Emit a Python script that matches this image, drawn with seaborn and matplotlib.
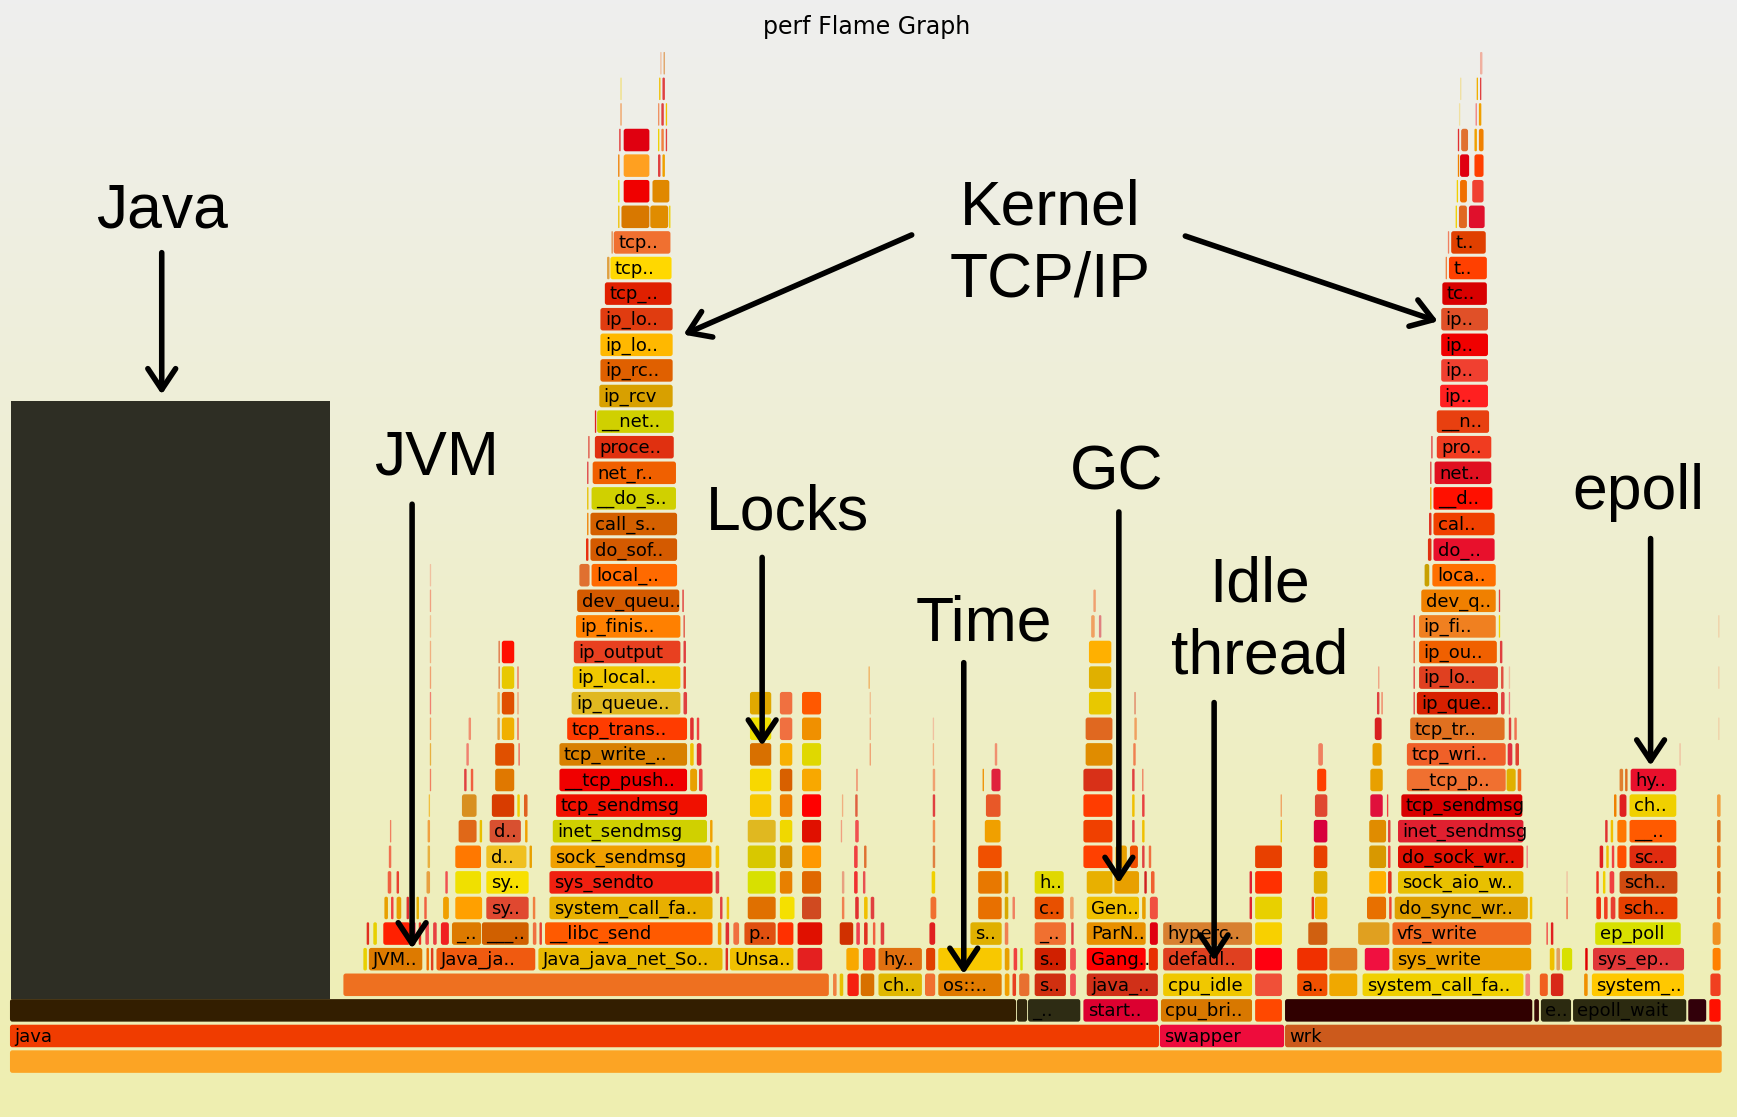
import numpy as np
import pandas as pd
import matplotlib
matplotlib.use("Agg")
import matplotlib.pyplot as plt
import seaborn as sns
from matplotlib.patches import FancyBboxPatch, Rectangle, ArrowStyle
from matplotlib.colors import LinearSegmentedColormap

# frames: (stack depth, first sample, last sample, function name, fill)
base_frames = [
    (0, 9, 1555, "", "#fca424"),
    (1, 9, 1047, "java", "#f03c00"),
    (1, 1047, 1160, "swapper", "#ee0c3c"),
    (1, 1160, 1555, "wrk", "#cc5a1c"),
    (2, 9, 918, "", "#331e00"),
    (2, 918, 928, "", "#30260c"),
    (2, 928, 976, "_..", "#2e2c14"),
    (2, 978, 1046, "start..", "#dc0030"),
    (2, 1048, 1131, "cpu_bri..", "#d87800"),
    (2, 1133, 1158, "", "#ff4800"),
    (2, 1160, 1384, "", "#300000"),
    (2, 1385, 1390, "", "#3a0806"),
    (2, 1391, 1419, "e..", "#2c2a10"),
    (2, 1420, 1523, "epoll_wait", "#2c2a10"),
    (2, 1524, 1541, "", "#32000a"),
    (2, 1543, 1554, "", "#ff1000"),
]

jvm_frames = [
    (3, 310, 749, "", "#ee7020"),
    (4, 328, 332, "", "#e8d000"), (4, 333, 382, "JVM..", "#dd7a00"),
    (4, 385, 388, "", "#f07000"), (4, 389, 392, "", "#e04020"),
    (4, 394, 484, "Java_ja..", "#f05a10"),
    (5, 331, 334, "", "#e03020"), (5, 337, 341, "", "#e8d000"), (5, 346, 371, "", "#ff2000"),
    (5, 373, 376, "", "#f04060"), (5, 378, 381, "", "#e83020"), (5, 384, 388, "", "#f05050"),
    (5, 391, 395, "", "#e84040"), (5, 398, 406, "", "#f02020"),
    (5, 408, 435, "_..", "#dd7a00"), (5, 435, 478, "___..", "#d06000"), (5, 481, 485, "", "#f07040"),
    (6, 347, 351, "", "#e8a000"), (6, 353, 356, "", "#f04040"), (6, 358, 363, "", "#e8a000"),
    (6, 367, 370, "", "#e03030"), (6, 376, 379, "", "#e8b000"), (6, 383, 386, "", "#f06040"),
    (6, 400, 406, "", "#f0a000"), (6, 411, 436, "", "#ffa000"), (6, 439, 478, "sy..", "#e04830"),
    (6, 481, 484, "", "#f08040"),
    (7, 350, 354, "", "#f06040"), (7, 358, 361, "", "#e84030"), (7, 385, 389, "", "#e8a040"),
    (7, 402, 405, "", "#f05050"), (7, 411, 435, "", "#f0e000"), (7, 439, 478, "sy..", "#f8e000"),
    (8, 351, 354, "", "#f07050"), (8, 386, 389, "", "#e8b040"), (8, 411, 435, "", "#ff7800"),
    (8, 439, 476, "d..", "#f0c020"), (8, 478, 481, "", "#e8a000"),
    (9, 352, 354, "", "#f08060"), (9, 386, 389, "", "#f0a040"), (9, 414, 431, "", "#e06818"),
    (9, 433, 436, "", "#e8c000"), (9, 442, 471, "d..", "#d85030"), (9, 474, 477, "", "#f0a000"),
    (10, 387, 389, "", "#f0c040"), (10, 417, 431, "", "#d89020"), (10, 444, 465, "", "#d83c00"),
    (10, 467, 470, "", "#f0d000"), (10, 473, 477, "", "#e06020"),
    (11, 388, 390, "", "#f08060"), (11, 419, 422, "", "#e04040"), (11, 425, 428, "", "#f06040"),
    (11, 447, 465, "", "#e07800"),
    (12, 388, 390, "", "#e8b040"), (12, 421, 424, "", "#f08070"), (12, 447, 465, "", "#e05000"),
    (12, 468, 470, "", "#f06050"),
    (13, 388, 390, "", "#f0a060"), (13, 423, 426, "", "#f09070"), (13, 449, 452, "", "#e8a040"),
    (13, 453, 465, "", "#f0b000"), (13, 467, 469, "", "#f06040"),
    (14, 388, 390, "", "#f08070"), (14, 449, 452, "", "#f0b050"), (14, 453, 465, "", "#e05000"),
    (14, 467, 469, "", "#f0a070"),
    (15, 388, 390, "", "#f0a070"), (15, 450, 452, "", "#e08040"), (15, 453, 465, "", "#e8c800"),
    (15, 467, 469, "", "#f07050"),
    (16, 388, 390, "", "#f0b080"), (16, 450, 452, "", "#e07040"), (16, 453, 465, "", "#ff1000"),
    (17, 388, 390, "", "#f0c090"), (18, 388, 390, "", "#f0a080"), (19, 388, 390, "", "#f0c0a0"),
]

send_frames = [
    (4, 486, 653, "Java_java_net_So..", "#e8b800"), (4, 655, 658, "", "#e03020"),
    (5, 487, 490, "", "#e84030"), (5, 492, 644, "__libc_send", "#ff5a00"),
    (5, 648, 652, "", "#f0a000"), (5, 655, 659, "", "#e03030"),
    (6, 496, 644, "system_call_fa..", "#e8b000"), (6, 650, 653, "", "#e04040"), (6, 656, 659, "", "#f0c000"),
    (7, 496, 644, "sys_sendto", "#f02010"), (7, 646, 650, "", "#e04040"),
    (8, 497, 643, "sock_sendmsg", "#f0a000"), (8, 646, 650, "", "#f0c000"),
    (9, 499, 639, "inet_sendmsg", "#d0d000"), (9, 641, 644, "", "#f0a000"),
    (10, 502, 639, "tcp_sendmsg", "#f01000"),
    (11, 505, 621, "__tcp_push..", "#f00000"), (11, 623, 630, "", "#e8a000"), (11, 631, 635, "", "#e84040"),
    (12, 505, 621, "tcp_write_..", "#d88000"), (12, 623, 627, "", "#f0c000"), (12, 629, 634, "", "#e03030"),
    (13, 512, 621, "tcp_trans..", "#ff3c00"), (13, 623, 627, "", "#e03030"), (13, 629, 632, "", "#f04040"),
    (14, 516, 615, "ip_queue..", "#e0b820"), (14, 617, 621, "", "#e04040"),
    (15, 517, 615, "ip_local..", "#f0c800"), (15, 617, 620, "", "#e04030"),
    (16, 518, 615, "ip_output", "#e84020"), (16, 617, 620, "", "#e04040"),
    (17, 520, 615, "ip_finis..", "#ff8000"), (17, 617, 619, "", "#e05040"),
    (18, 521, 614, "dev_queu..", "#d45a00"), (18, 616, 618, "", "#e03030"),
    (19, 523, 533, "", "#e07030"), (19, 534, 612, "local_..", "#ff6a00"),
    (20, 529, 532, "", "#e83010"), (20, 533, 612, "do_sof..", "#d45a00"),
    (21, 530, 532, "", "#f08000"), (21, 533, 612, "call_s..", "#d46000"),
    (22, 530, 532, "", "#e8c000"), (22, 534, 611, "__do_s..", "#d0d000"),
    (23, 530, 532, "", "#e04040"), (23, 535, 611, "net_r..", "#f06000"),
    (24, 531, 533, "", "#e05040"), (24, 537, 609, "proce..", "#e03010"),
    (25, 537, 539, "", "#e02020"), (25, 539, 609, "__net..", "#d0d000"),
    (26, 541, 608, "ip_rcv", "#d8a000"),
    (27, 542, 608, "ip_rc..", "#e06000"),
    (28, 542, 608, "ip_lo..", "#ffb800"),
    (29, 542, 608, "ip_lo..", "#e03c10"),
    (30, 546, 607, "tcp_..", "#e02000"),
    (31, 548, 551, "", "#e0a040"), (31, 551, 607, "tcp..", "#ffd800"),
    (32, 552, 554, "", "#e09050"), (32, 554, 606, "tcp..", "#f07030"),
    (33, 558, 560, "", "#f0c000"), (33, 561, 587, "", "#d87800"), (33, 587, 604, "", "#e08c00"),
    (33, 604, 606, "", "#f0d000"),
    (34, 558, 560, "", "#f0e000"), (34, 563, 587, "", "#f00000"), (34, 589, 605, "", "#e08800"),
    (35, 558, 560, "", "#f08000"), (35, 563, 587, "", "#ffa020"), (35, 594, 597, "", "#e04040"),
    (35, 598, 601, "", "#f0a000"),
    (36, 559, 561, "", "#e03030"), (36, 563, 587, "", "#e00010"), (36, 594, 596, "", "#f0d000"),
    (36, 597, 600, "", "#f08040"), (36, 601, 603, "", "#e04040"),
    (37, 560, 562, "", "#f0a060"), (37, 594, 596, "", "#f09060"), (37, 597, 600, "", "#e04040"),
    (37, 601, 603, "", "#f0c000"),
    (38, 560, 562, "", "#f0e080"), (38, 595, 597, "", "#f0c000"), (38, 598, 601, "", "#e04040"),
    (39, 596, 598, "", "#f0c0a0"), (39, 599, 601, "", "#e0a060"),
]

locks_frames = [
    (3, 752, 756, "", "#f08040"), (3, 758, 762, "", "#e8c000"), (3, 765, 776, "", "#f52010"),
    (3, 777, 790, "", "#d87000"),
    (4, 659, 717, "Unsa..", "#f0c000"), (4, 720, 743, "", "#e42020"), (4, 764, 776, "", "#f8a800"),
    (4, 779, 791, "", "#f03020"),
    (5, 662, 668, "", "#f07040"), (5, 672, 701, "p..", "#e05010"), (5, 702, 717, "", "#ff3000"),
    (5, 720, 743, "", "#e01000"), (5, 758, 771, "", "#d03000"), (5, 773, 777, "", "#f04050"),
    (5, 780, 784, "", "#e03020"), (5, 788, 791, "", "#f06040"),
    (6, 675, 701, "", "#e07000"), (6, 704, 718, "", "#f5e000"), (6, 724, 742, "", "#d04a20"),
    (6, 760, 763, "", "#f08050"), (6, 772, 776, "", "#e03030"), (6, 780, 784, "", "#f0c000"),
    (6, 786, 790, "", "#e04040"),
    (7, 675, 701, "", "#d8e000"), (7, 704, 716, "", "#e88000"), (7, 724, 742, "", "#e06800"),
    (7, 760, 763, "", "#e8a080"), (7, 771, 775, "", "#f03030"), (7, 779, 782, "", "#e85050"),
    (8, 675, 701, "", "#d8c800"), (8, 704, 716, "", "#d89000"), (8, 724, 742, "", "#ff9800"),
    (8, 771, 775, "", "#f04040"), (8, 780, 783, "", "#e07030"),
    (9, 675, 701, "", "#e0b820"), (9, 704, 716, "", "#f0d800"), (9, 724, 742, "", "#e01000"),
    (9, 759, 761, "", "#f0a080"), (9, 772, 776, "", "#f05050"),
    (10, 677, 697, "", "#f8c800"), (10, 704, 716, "", "#f08000"), (10, 724, 742, "", "#ff0000"),
    (10, 760, 762, "", "#f0b080"), (10, 772, 775, "", "#e06040"),
    (11, 677, 697, "", "#f8d800"), (11, 704, 716, "", "#d86000"), (11, 724, 742, "", "#f8a800"),
    (11, 773, 775, "", "#f08060"),
    (12, 677, 697, "", "#d87000"), (12, 704, 716, "", "#f8b000"), (12, 724, 742, "", "#e0d800"),
    (12, 785, 787, "", "#f0a070"),
    (13, 677, 697, "", "#f0e000"), (13, 704, 716, "", "#f07040"), (13, 724, 742, "", "#f09000"),
    (13, 785, 787, "", "#f0b080"),
    (14, 677, 697, "", "#e0a800"), (14, 704, 716, "", "#f07040"), (14, 724, 742, "", "#ff5800"),
    (14, 785, 787, "", "#f0c090"),
    (15, 784, 786, "", "#f0b060"),
]

time_frames = [
    (3, 793, 833, "ch..", "#e0b800"), (3, 835, 845, "", "#f07030"), (3, 847, 905, "os::..", "#e07a00"),
    (3, 907, 912, "", "#f0a000"), (3, 914, 918, "", "#e84020"), (3, 920, 930, "", "#e87030"),
    (3, 934, 963, "s..", "#d03010"), (3, 966, 972, "", "#f05050"),
    (4, 793, 833, "hy..", "#e07010"), (4, 836, 845, "", "#e04000"), (4, 847, 905, "", "#f8c800"),
    (4, 907, 912, "", "#e8a000"), (4, 915, 919, "", "#f04040"), (4, 921, 924, "", "#d8e000"),
    (4, 934, 963, "s..", "#d02000"), (4, 966, 972, "", "#f05050"),
    (5, 795, 799, "", "#e04040"), (5, 839, 845, "", "#e02020"), (5, 876, 905, "s..", "#e0b000"),
    (5, 907, 911, "", "#f08050"), (5, 934, 963, "_..", "#f07030"), (5, 967, 970, "", "#e04040"),
    (6, 840, 846, "", "#f07030"), (6, 883, 905, "", "#e87000"), (6, 907, 911, "", "#d8a800"),
    (6, 914, 917, "", "#f08060"), (6, 934, 961, "c..", "#e85000"), (6, 966, 970, "", "#f0a060"),
    (7, 841, 845, "", "#f0d000"), (7, 883, 905, "", "#e87800"), (7, 907, 911, "", "#d8a800"),
    (7, 934, 961, "h..", "#e0d800"),
    (8, 842, 845, "", "#e08040"), (8, 883, 905, "", "#f05000"),
    (9, 842, 845, "", "#f09050"), (9, 889, 904, "", "#f0a000"),
    (10, 842, 845, "", "#e04040"), (10, 890, 904, "", "#e85828"),
    (11, 842, 845, "", "#f0a070"), (11, 887, 889, "", "#f09000"), (11, 895, 904, "", "#e0203c"),
    (12, 842, 844, "", "#f0b080"), (12, 898, 901, "", "#f09070"),
    (13, 842, 844, "", "#f0c0a0"),
]

gc_frames = [
    (3, 981, 1046, "java_..", "#d03018"),
    (4, 981, 1035, "Gang..", "#ff0000"), (4, 1037, 1046, "", "#e83000"),
    (5, 981, 1035, "ParN..", "#e89000"), (5, 1038, 1046, "", "#e00010"),
    (6, 981, 1029, "Gen..", "#f0c000"), (6, 1031, 1035, "", "#e8a000"), (6, 1038, 1046, "", "#f05040"),
    (7, 981, 1005, "", "#e8b000"), (7, 1006, 1029, "", "#e8a000"), (7, 1033, 1036, "", "#d02020"),
    (7, 1039, 1043, "", "#f06030"),
    (8, 978, 1005, "", "#ff4000"), (8, 1007, 1018, "", "#e8a000"), (8, 1020, 1028, "", "#f05000"),
    (8, 1031, 1034, "", "#e04040"), (8, 1037, 1040, "", "#f07040"),
    (9, 978, 1005, "", "#f04000"), (9, 1022, 1025, "", "#e04040"), (9, 1031, 1034, "", "#f0c000"),
    (10, 978, 1005, "", "#ff3c00"), (10, 1022, 1025, "", "#f0c000"), (10, 1031, 1034, "", "#e84040"),
    (11, 978, 1005, "", "#d83018"), (11, 1022, 1025, "", "#e04040"), (11, 1031, 1033, "", "#f08060"),
    (12, 980, 1005, "", "#e08c00"), (12, 1023, 1026, "", "#f08050"),
    (13, 980, 1005, "", "#e06820"), (13, 1024, 1027, "", "#f0a060"),
    (14, 983, 1004, "", "#e8c800"), (14, 1024, 1026, "", "#e08060"),
    (15, 983, 1004, "", "#e0b000"),
    (16, 983, 1004, "", "#ffb000"),
    (17, 985, 989, "", "#f0a060"), (17, 992, 995, "", "#e08080"),
    (18, 987, 990, "", "#f0a070"),
]

idle_frames = [
    (3, 1050, 1131, "cpu_idle", "#f0c800"), (3, 1133, 1158, "", "#f05038"),
    (4, 1050, 1131, "defaul..", "#e04020"), (4, 1133, 1158, "", "#ff0010"),
    (5, 1050, 1131, "hyperc..", "#d88030"), (5, 1133, 1158, "", "#f8d000"),
    (6, 1128, 1131, "", "#e02030"), (6, 1133, 1158, "", "#e8d000"),
    (7, 1128, 1131, "", "#e02030"), (7, 1133, 1158, "", "#ff3000"),
    (8, 1133, 1158, "", "#e84000"),
    (9, 1156, 1158, "", "#f0c000"), (10, 1156, 1158, "", "#f0a060"),
]

wrk_frames = [
    (3, 1171, 1199, "a..", "#f05000"), (3, 1200, 1226, "", "#f0a800"),
    (3, 1230, 1376, "system_call_fa..", "#f0d000"), (3, 1377, 1382, "", "#f08080"),
    (3, 1390, 1398, "", "#f06020"), (3, 1400, 1412, "", "#d82818"),
    (4, 1171, 1199, "", "#f03000"), (4, 1200, 1226, "", "#e07820"), (4, 1232, 1255, "", "#f01040"),
    (4, 1257, 1383, "sys_write", "#eba000"), (4, 1399, 1404, "", "#f0c000"),
    (4, 1405, 1409, "", "#e0a060"), (4, 1410, 1420, "", "#d8e000"),
    (5, 1181, 1199, "", "#d06010"), (5, 1226, 1255, "", "#e0a020"),
    (5, 1257, 1383, "vfs_write", "#f06820"), (5, 1396, 1398, "", "#f04040"), (5, 1400, 1403, "", "#e02020"),
    (6, 1184, 1187, "", "#e03020"), (6, 1187, 1199, "", "#f0b000"), (6, 1234, 1252, "", "#e87000"),
    (6, 1254, 1257, "", "#f04030"), (6, 1259, 1380, "do_sync_wr..", "#e0a000"),
    (6, 1381, 1384, "", "#f0c000"), (6, 1414, 1416, "", "#f06040"),
    (7, 1186, 1199, "", "#e0b000"), (7, 1236, 1252, "", "#ffb000"), (7, 1253, 1257, "", "#e03020"),
    (7, 1262, 1376, "sock_aio_w..", "#e8c000"), (7, 1414, 1416, "", "#f0c0a0"),
    (8, 1186, 1199, "", "#e84000"), (8, 1236, 1252, "", "#d89800"), (8, 1253, 1256, "", "#f04040"),
    (8, 1262, 1376, "do_sock_wr..", "#e01000"), (8, 1378, 1380, "", "#f08080"),
    (9, 1186, 1199, "", "#d8003c"), (9, 1236, 1252, "", "#e08c00"), (9, 1253, 1256, "", "#e04040"),
    (9, 1262, 1376, "inet_sendmsg", "#e02030"),
    (10, 1187, 1199, "", "#e04830"), (10, 1237, 1249, "", "#e0103c"), (10, 1252, 1254, "", "#f04040"),
    (10, 1265, 1375, "tcp_sendmsg", "#d80000"),
    (11, 1189, 1198, "", "#ff4000"), (11, 1237, 1249, "", "#e8a000"),
    (11, 1270, 1360, "__tcp_p..", "#f07030"), (11, 1360, 1369, "", "#e0b000"), (11, 1370, 1374, "", "#f07020"),
    (12, 1190, 1195, "", "#f08060"), (12, 1239, 1248, "", "#e8a000"),
    (12, 1270, 1360, "tcp_wri..", "#f06028"), (12, 1361, 1366, "", "#e03040"), (12, 1368, 1372, "", "#e04030"),
    (13, 1241, 1248, "", "#d82020"), (13, 1273, 1359, "tcp_tr..", "#e07020"),
    (13, 1362, 1365, "", "#e04040"), (13, 1367, 1370, "", "#f07050"),
    (14, 1243, 1246, "", "#e04040"), (14, 1247, 1249, "", "#f08060"), (14, 1276, 1278, "", "#e04040"),
    (14, 1279, 1353, "ip_que..", "#d82000"), (14, 1355, 1359, "", "#e04040"), (14, 1362, 1364, "", "#f08080"),
    (15, 1244, 1246, "", "#f0a080"), (15, 1276, 1278, "", "#e04040"),
    (15, 1281, 1353, "ip_lo..", "#e04020"), (15, 1355, 1358, "", "#e05040"), (15, 1362, 1364, "", "#f0c0a0"),
    (16, 1276, 1278, "", "#e06040"), (16, 1281, 1352, "ip_ou..", "#f06000"), (16, 1354, 1357, "", "#e04040"),
    (17, 1276, 1278, "", "#e04040"), (17, 1281, 1351, "ip_fi..", "#f08020"), (17, 1353, 1355, "", "#f0d000"),
    (18, 1283, 1351, "dev_q..", "#f08000"), (18, 1353, 1355, "", "#e04040"),
    (19, 1286, 1291, "", "#c8a000"), (19, 1293, 1351, "loca..", "#ff7000"),
    (20, 1289, 1293, "", "#e03010"), (20, 1294, 1350, "do_..", "#e8102c"),
    (21, 1290, 1293, "", "#e03020"), (21, 1294, 1350, "cal..", "#f04000"),
    (22, 1291, 1293, "", "#f0a000"), (22, 1294, 1348, "__d..", "#ff1000"),
    (23, 1291, 1293, "", "#e04040"), (23, 1295, 1347, "net..", "#e01020"),
    (24, 1292, 1294, "", "#e04040"), (24, 1297, 1347, "pro..", "#f03c20"),
    (25, 1297, 1345, "__n..", "#e84010"),
    (26, 1300, 1344, "ip..", "#ff2020"),
    (27, 1301, 1344, "ip..", "#f04030"),
    (28, 1301, 1344, "ip..", "#f00000"),
    (29, 1301, 1344, "ip..", "#e05028"),
    (30, 1302, 1343, "tc..", "#d80000"),
    (31, 1305, 1307, "", "#f08040"), (31, 1308, 1343, "t..", "#ff4000"),
    (32, 1307, 1309, "", "#f08060"), (32, 1310, 1342, "t..", "#e04000"),
    (33, 1314, 1316, "", "#f0d000"), (33, 1317, 1325, "", "#e06820"), (33, 1326, 1341, "", "#e0102c"),
    (34, 1315, 1317, "", "#f0d000"), (34, 1318, 1325, "", "#f07000"), (34, 1329, 1340, "", "#f04030"),
    (35, 1316, 1318, "", "#f08000"), (35, 1318, 1327, "", "#e00010"), (35, 1331, 1340, "", "#ff4000"),
    (36, 1316, 1318, "", "#e03030"), (36, 1319, 1326, "", "#e07030"), (36, 1331, 1334, "", "#f0a000"),
    (36, 1335, 1340, "", "#f08000"),
    (37, 1317, 1319, "", "#f0e0a0"), (37, 1332, 1334, "", "#f08080"), (37, 1335, 1338, "", "#f0a000"),
    (38, 1318, 1320, "", "#f0e0a0"), (38, 1333, 1335, "", "#f0b000"), (38, 1336, 1338, "", "#e04040"),
    (39, 1336, 1339, "", "#f0b0a0"),
]

epoll_frames = [
    (3, 1430, 1434, "", "#f09000"), (3, 1437, 1521, "system_..", "#ffc800"), (3, 1544, 1554, "", "#f04020"),
    (4, 1431, 1434, "", "#e00000"), (4, 1438, 1521, "sys_ep..", "#e03838"), (4, 1546, 1554, "", "#ff8000"),
    (5, 1440, 1518, "ep_poll", "#d8e000"), (5, 1546, 1554, "", "#f09020"),
    (6, 1441, 1446, "", "#f03010"), (6, 1448, 1452, "", "#f04020"), (6, 1454, 1459, "", "#e84030"),
    (6, 1461, 1515, "sch..", "#e84000"), (6, 1550, 1554, "", "#f07020"),
    (7, 1441, 1444, "", "#f03020"), (7, 1447, 1450, "", "#f0d000"), (7, 1453, 1458, "", "#f04040"),
    (7, 1462, 1515, "sch..", "#d04a10"), (7, 1550, 1554, "", "#e07010"),
    (8, 1444, 1448, "", "#e02020"), (8, 1450, 1453, "", "#f0c000"), (8, 1455, 1458, "", "#f04040"),
    (8, 1460, 1469, "", "#ff5000"), (8, 1471, 1514, "sc..", "#e02c10"), (8, 1550, 1554, "", "#e88020"),
    (9, 1449, 1452, "", "#e03030"), (9, 1454, 1457, "", "#f0c000"), (9, 1460, 1469, "", "#ff7800"),
    (9, 1471, 1514, "__..", "#ff5a00"), (9, 1550, 1554, "", "#e07820"),
    (10, 1457, 1460, "", "#f08000"), (10, 1462, 1469, "", "#e02020"), (10, 1471, 1514, "ch..", "#f0d000"),
    (10, 1550, 1554, "", "#f0a040"),
    (11, 1462, 1466, "", "#e08030"), (11, 1467, 1470, "", "#e07020"), (11, 1472, 1514, "hy..", "#e8102c"),
    (12, 1516, 1518, "", "#f0c0a0"),
    (13, 1551, 1553, "", "#f0d0a8"), (15, 1551, 1553, "", "#f0d0a8"), (17, 1551, 1553, "", "#f0d0a8"),
]

# redacted java frames (samples 10-298, depth 3 .. ~25)
java_hidden = (10, 298, 2.45, 25.8)

frames = pd.DataFrame(
    base_frames + jvm_frames + send_frames + locks_frames + time_frames
    + gc_frames + idle_frames + wrk_frames + epoll_frames,
    columns=["level", "start", "end", "name", "color"],
)

sns.set_theme(style="white")
plt.rcParams["font.family"] = ["DejaVu Sans"]

fig = plt.figure(figsize=(17.37, 11.17), dpi=100)

# background gradient like the svg
bg = fig.add_axes([0, 0, 1, 1])
bg_cmap = LinearSegmentedColormap.from_list("bg", ["#eeeeee", "#eeeeb0"])
bg.imshow(np.linspace(0, 1, 256)[:, None], aspect="auto", cmap=bg_cmap, extent=[0, 1, 0, 1])
bg.axis("off")

ax = fig.add_axes([0, 0, 1, 1])
ax.set_xlim(0, 1568)
ax.set_ylim(-2.165, 41.47)
ax.axis("off")
ax.patch.set_alpha(0)
aspect = 1 / 23.1

for r in frames.itertuples():
    w = r.end - r.start - 0.8
    rs = min(2.2, w * 0.45)
    ax.add_patch(FancyBboxPatch((r.start, r.level - 0.44), w, 0.88,
                                boxstyle=f"round,pad=0,rounding_size={rs}",
                                mutation_aspect=aspect, fc=r.color, ec="none"))
    if r.name:
        ax.text(r.start + 4, r.level - 0.03, r.name, fontsize=13, va="center", ha="left", color="black")

x0, x1, y0, y1 = java_hidden
ax.add_patch(Rectangle((x0, y0), x1 - x0, y1 - y0, fc="#2e2e24", ec="none"))

# callouts
ov = fig.add_axes([0, 0, 1, 1])
ov.set_xlim(0, 1568)
ov.set_ylim(1008, 0)
ov.axis("off")
ov.patch.set_alpha(0)

ov.text(782, 31, "perf Flame Graph", ha="center", va="baseline", fontsize=17, color="black")

words = [("Java", 146, 205), ("Kernel", 948, 203), ("TCP/IP", 948, 268), ("JVM", 394, 428),
         ("Locks", 711, 478), ("GC", 1008, 442), ("Time", 888, 578), ("Idle", 1137, 543),
         ("thread", 1137, 608), ("epoll", 1479, 459)]
for t, x, y in words:
    ov.text(x, y, t, ha="center", va="baseline", fontsize=45, family="Liberation Sans", color="black")

arrows = [((146, 228), (146, 356)), ((823, 212), (617, 302)), ((1070, 213), (1298, 290)),
          ((372, 455), (372, 856)), ((688, 503), (688, 673)), ((1010, 462), (1010, 797)),
          ((870, 598), (870, 879)), ((1096, 634), (1096, 867)), ((1490, 486), (1490, 691))]
head = ArrowStyle("->", head_length=0.6, head_width=0.4)
for start, end in arrows:
    ov.annotate("", xy=end, xytext=start,
                arrowprops=dict(arrowstyle=head, lw=4, color="black", mutation_scale=25,
                                shrinkA=0, shrinkB=0))

fig.savefig("out.png", dpi=100)
